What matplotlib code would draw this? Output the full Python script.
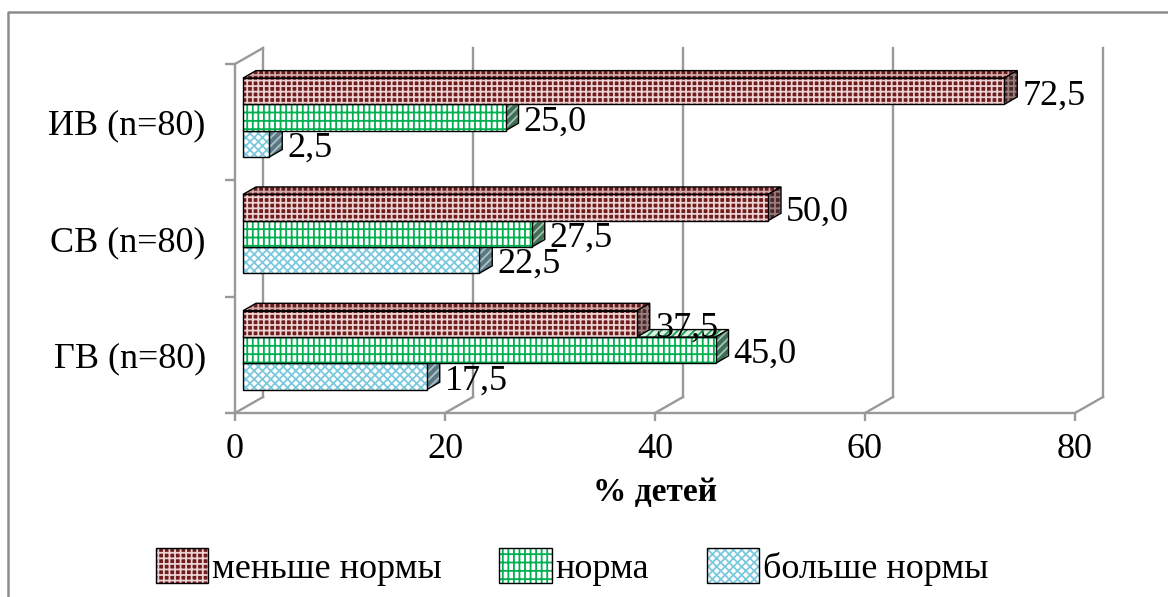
# -*- coding: utf-8 -*-
# Распределение детей по группам: меньше нормы / норма / больше нормы
import matplotlib
matplotlib.use('Agg')
import matplotlib.pyplot as plt
from matplotlib.patches import Polygon, Patch
from matplotlib.lines import Line2D

plt.rcParams['font.family'] = ['Liberation Serif', 'DejaVu Serif']
plt.rcParams['hatch.linewidth'] = 1.3

# Данные
groups = ['ГВ (n=80)', 'СВ (n=80)', 'ИВ (n=80)']
below = [37.5, 50.0, 72.5]
norm = [45.0, 27.5, 25.0]
above = [17.5, 22.5, 2.5]
xticks = [0, 20, 40, 60, 80]
series_names = ['меньше нормы', 'норма', 'больше нормы']

W, H = 1168, 597
fig = plt.figure(figsize=(W / 100, H / 100), dpi=100)
ax = fig.add_axes([235 / W, (H - 413) / H, 840 / W, 349 / H])
ax.set_xlim(0, 80)
ax.set_ylim(0, 3)

# пиксели -> единицы осей
ux = 80 / 840
uy = 3 / 349
WX, WY = 28 * ux, 16 * uy          # глубина стенки
BX0, BY0 = 8 * ux, 4.6 * uy        # сдвиг передней грани столбцов
BX, BY = 13 * ux, 7.5 * uy         # глубина столбцов
BH = 26.3 * uy                     # высота столбца

grid_c = '#999999'
glw = 1.7

# задняя стенка: линии сетки и диагонали к оси
for v in xticks:
    ax.plot([v, v + WX], [0, WY], color=grid_c, lw=glw, zorder=1, clip_on=False)
    ax.plot([v + WX, v + WX], [WY, 3 + WY], color=grid_c, lw=glw, zorder=1, clip_on=False)
ax.plot([0, WX], [3, 3 + WY], color=grid_c, lw=glw, zorder=1, clip_on=False)

# стиль граней: (лицевая, верх, бок) -> (заливка, цвет штриховки, штриховка)
styles = [
    # больше нормы
    [('white', '#7cc9de', 'xxxx'), ('#d3ecf4', '#7cc0d4', 'xxxx'), ('#5d7880', '#a9c4cc', '////')],
    # норма
    [('white', '#00b050', '++|'), ('#d9f2e2', '#1f9a52', '////'), ('#3f6f55', '#a7c2b2', '////')],
    # меньше нормы
    [('#6e1c1c', '#ecd2d2', '+++'), ('#641c1c', '#d4a8a8', '+++'), ('#4a2828', '#9a7e7e', '+++')],
]
values = [above, norm, below]


def face(pts, st, z):
    fc, hc, h = st
    ax.add_patch(Polygon(pts, closed=True, facecolor=fc, edgecolor=hc, hatch=h,
                         lw=0, zorder=z, clip_on=False))
    ax.add_patch(Polygon(pts, closed=True, fill=False, edgecolor='black',
                         lw=1.0, zorder=z + 0.5, clip_on=False))


z = 3
for i in range(3):
    for k in range(3):
        v = values[k][i]
        b = i + 0.5 + BY0 + (k - 1.5) * BH
        st = styles[k]
        x1 = BX0 + v
        # верхняя грань
        face([(BX0, b + BH), (x1, b + BH), (x1 + BX, b + BH + BY), (BX0 + BX, b + BH + BY)], st[1], z)
        # боковая грань
        face([(x1, b), (x1 + BX, b + BY), (x1 + BX, b + BH + BY), (x1, b + BH)], st[2], z + 1)
        # лицевая грань
        ax.barh(b + BH / 2, v, left=BX0, height=BH, color=st[0][0], edgecolor=st[0][1],
                hatch=st[0][2], linewidth=0, zorder=z + 2, clip_on=False)
        ax.barh(b + BH / 2, v, left=BX0, height=BH, fill=False, edgecolor='black',
                linewidth=1.0, zorder=z + 2.5, clip_on=False)
        ax.text(x1 + BX + 5 * ux, b + BH / 2 - 4.5 * uy, f'{v:.1f}'.replace('.', ','),
                fontsize=26, va='center', ha='left', zorder=20)
        z += 3

# оси
for s in ['top', 'right']:
    ax.spines[s].set_visible(False)
for s in ['left', 'bottom']:
    ax.spines[s].set_color(grid_c)
    ax.spines[s].set_linewidth(glw)
    ax.spines[s].set_zorder(1)
ax.set_xticks(xticks)
ax.set_xticklabels([str(t) for t in xticks])
ax.tick_params(axis='x', length=6, width=glw, color=grid_c, labelsize=26, pad=8.5)
ax.set_yticks([0, 1, 2, 3])
ax.set_yticklabels([])
ax.tick_params(axis='y', which='major', length=7, width=glw, color=grid_c)
ax.set_yticks([0.5, 1.5, 2.5], minor=True)
ax.set_yticklabels(groups, minor=True)
ax.tick_params(axis='y', which='minor', length=0, labelsize=26, pad=21)
ax.set_xlabel('% детей', fontsize=24, fontweight='bold', labelpad=8)
ax.patch.set_visible(False)

# рамка области диаграммы
fig.add_artist(Line2D([8 / W, 8 / W, 1.0], [0, 1 - 12 / H, 1 - 12 / H],
                      transform=fig.transFigure, color='#8c8c8c', lw=1.8))

# легенда: заливка со штриховкой + чёрный контур
handles = []
for k in [2, 1, 0]:
    fc, hc, h = styles[k][0]
    handles.append((Patch(facecolor=fc, edgecolor=hc, hatch=h, lw=0),
                    Patch(fill=False, edgecolor='black', lw=1.0)))
fig.legend(handles, series_names, loc='center', bbox_to_anchor=(572 / W, 1 - 567 / H),
           ncol=3, frameon=False, fontsize=26, handlelength=1.45, handleheight=1.1,
           handletextpad=0.1, columnspacing=1.6)

fig.savefig('out.png', dpi=100)
